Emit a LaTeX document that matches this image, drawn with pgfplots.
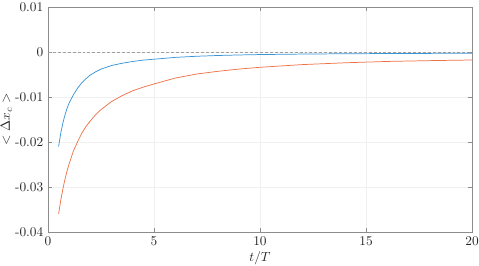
\documentclass[border=0pt]{standalone}
\usepackage{pgfplots}
\pgfplotsset{compat=1.18}
\definecolor{mblue}{rgb}{0.22,0.58,0.84}
\definecolor{morange}{rgb}{0.93,0.45,0.28}
\definecolor{axgray}{gray}{0.55}
\definecolor{txtgray}{gray}{0.15}
\begin{document}
\begin{tikzpicture}
\begin{axis}[
  scale only axis,
  width=318pt, height=168.75pt,
  xmin=0, xmax=20, ymin=-0.04, ymax=0.01,
  xtick={0,5,10,15,20},
  ytick={-0.04,-0.03,-0.02,-0.01,0,0.01},
  yticklabels={-0.04,-0.03,-0.02,-0.01,0,0.01},
  xticklabels={0,5,10,15,20},
  scaled y ticks=false,
  tick align=inside,
  major tick length=3pt,
  tick style={axgray, line width=0.4pt},
  axis line style={axgray, line width=0.5pt},
  grid=major,
  major grid style={gray!12, line width=0.4pt},
  ticklabel style={text=txtgray, font=\normalsize},
  xlabel={$t/T$}, ylabel={$<\Delta x_c>$},
  label style={text=txtgray},
  xlabel style={yshift=3pt},
  ylabel style={yshift=-4.5pt},
]
\addplot[gray!75, dash pattern=on 2.2pt off 1.5pt, line width=0.5pt, forget plot] coordinates {(0,0) (20,0)};
\addplot[mblue, line width=0.55pt] coordinates {
(0.5,-0.0210) (0.6,-0.0181) (0.7,-0.0158) (0.8,-0.0140) (0.9,-0.0125)
(1.0,-0.0113) (1.2,-0.0095) (1.4,-0.0080) (1.6,-0.0068) (1.8,-0.0059)
(2.0,-0.0051) (2.25,-0.0044) (2.5,-0.0038) (2.75,-0.0034) (3.0,-0.0030)
(3.5,-0.0025) (4.0,-0.0021) (4.5,-0.0018) (5.0,-0.0016) (6.0,-0.0012)
(7.0,-0.00095) (8.0,-0.00078) (9.0,-0.00066) (10,-0.00057) (12,-0.00046)
(14,-0.00039) (16,-0.00034) (18,-0.00031) (20,-0.00028)};
\addplot[morange, line width=0.55pt] coordinates {
(0.5,-0.0360) (0.6,-0.0330) (0.7,-0.0305) (0.8,-0.0283) (0.9,-0.0264)
(1.0,-0.0248) (1.2,-0.0220) (1.4,-0.0199) (1.6,-0.0180) (1.8,-0.0165)
(2.0,-0.0153) (2.25,-0.0139) (2.5,-0.0128) (2.75,-0.0119) (3.0,-0.0110)
(3.5,-0.0097) (4.0,-0.0086) (4.5,-0.0078) (5.0,-0.0071) (6.0,-0.0058)
(7.0,-0.0049) (8.0,-0.0043) (9.0,-0.0038) (10,-0.0034) (12,-0.0028)
(14,-0.0024) (16,-0.0021) (18,-0.00192) (20,-0.00178)};
\end{axis}
\pgfresetboundingbox
\path[use as bounding box] ([shift={(-36pt,-25.5pt)}]current axis.south west) rectangle ([shift={(5.25pt,5.25pt)}]current axis.north east);
\end{tikzpicture}
\end{document}
